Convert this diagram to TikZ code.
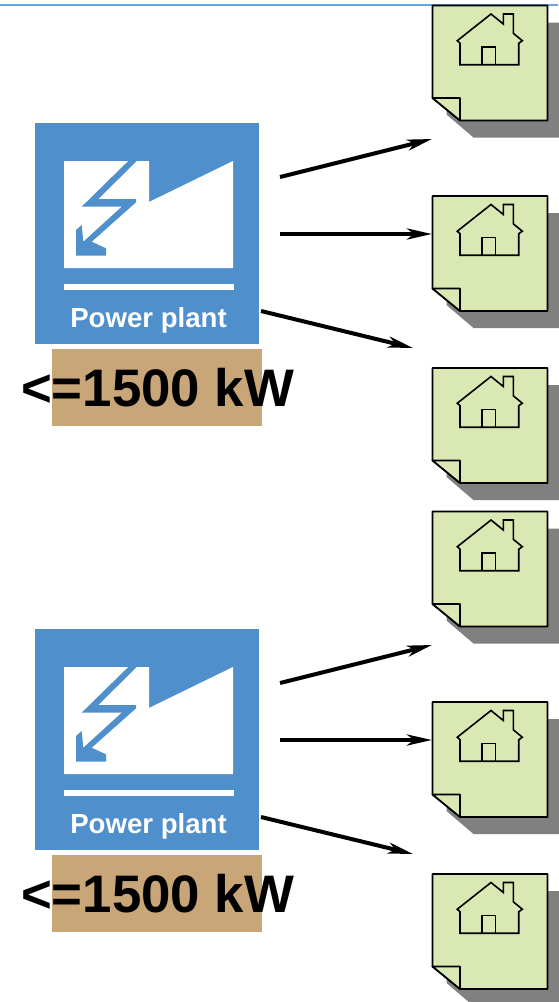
\documentclass[tikz,border=0pt]{standalone}
\usepackage{xcolor}
\usepackage{fontspec}
\setmainfont{Liberation Sans}
\usetikzlibrary{arrows.meta}
\definecolor{plantblue}{HTML}{4F8FCC}
\definecolor{noteGreen}{HTML}{DAE8B4}
\definecolor{limittan}{HTML}{C9A677}
\definecolor{topline}{HTML}{6AA5E0}

\begin{document}
\begin{tikzpicture}[
        x=1pt,
        y=-1pt,
        plantbox/.style={
            fill=plantblue,
            minimum width=224pt,
            minimum height=221pt,
            inner sep=0pt
        },
        limitbox/.style={
            fill=limittan,
            minimum width=210pt,
            minimum height=77pt,
            inner sep=0pt,
            font=\bfseries\fontsize{52.8pt}{56pt}\selectfont
        },
        plantlabel/.style={
            text=white,
            inner sep=0pt,
            font=\bfseries\fontsize{27.6pt}{30pt}\selectfont
        },
        feed/.style={
            -{Stealth[length=25pt,width=11pt,inset=7pt]},
            line width=4pt,
            black
        },
        noteline/.style={
            draw=black,
            line width=1.7pt,
            line join=round
        },
        notehouse/.pic={
            \fill[black!50] (14,17) -- (129,17) -- (129,132) -- (41,132) -- (14,109) -- cycle;
            \path[noteline, fill=noteGreen] (0,0) -- (115,0) -- (115,115) -- (27.5,115) -- (0,92.5) -- cycle;
            \path[noteline, fill=noteGreen] (0,92.5) -- (27.5,92.5) -- (27.5,115) -- cycle;
            % house outline
            \draw[line width=1.6pt, line join=miter]
                (24.8,35.2) -- (58.5,8.5) -- (70.8,18.5) -- (70.8,8.5) -- (80.8,8.5)
                -- (80.8,27.8) -- (89.8,35.2) -- (86.2,37.8) -- (86.2,59.2) -- (27.5,59.2)
                -- (27.5,37.8) -- cycle;
            \draw[line width=1.6pt] (49.5,59.2) -- (49.5,41.5) -- (62.8,41.5) -- (62.8,59.2);
        }
    ]

    \useasboundingbox (0,0) rectangle (558,1002);
    \draw[topline, line width=2.4pt] (0,5) -- (558,5);

    \foreach \n/\y in {1/5.5, 2/196, 3/368, 4/511.5, 5/702, 6/874}
        \pic (note\n) at (432.5,\y) {notehouse};

    \foreach \p/\dy in {1/0, 2/506} {
        \begin{scope}[shift={(0,\dy)}]
            \node[plantbox] (plant\p) at (147,233.5) {};
            % factory with the bolt cut out of it
            \fill[white] (64,161) -- (149,161) -- (149,202) -- (233,161) -- (233,268) -- (64,268) -- cycle;
            \fill[plantblue] (128.3,161) -- (136.7,161) -- (98.3,199) -- (136,199) -- (136,202.3)
                -- (91.7,241.7) -- (106,248.3) -- (106,255.7) -- (76,255.7) -- (76,230) -- (81.7,225)
                -- (83.3,241.7) -- (121.7,206.7) -- (81.7,206.7) -- cycle;
            \fill[white] (64,284) rectangle (234,290);
            \node[plantlabel] (label\p) at (148.5,320) {Power plant};
            \node[limitbox] (limit\p) at (157,387.5) {\makebox[0pt]{\hspace{1pt}<=1500 kW}};

            \coordinate (upS\p) at (280,177);
            \coordinate (upE\p) at (432,139);
            \coordinate (midS\p) at (280,234);
            \coordinate (midE\p) at (432,234);
            \coordinate (lowS\p) at (261,311);
            \coordinate (lowE\p) at (413,348);

            \draw[feed] (upS\p) -- (upE\p);
            \draw[feed] (midS\p) -- (midE\p);
            \draw[feed] (lowS\p) -- (lowE\p);
        \end{scope}
    }

\end{tikzpicture}
\end{document}
